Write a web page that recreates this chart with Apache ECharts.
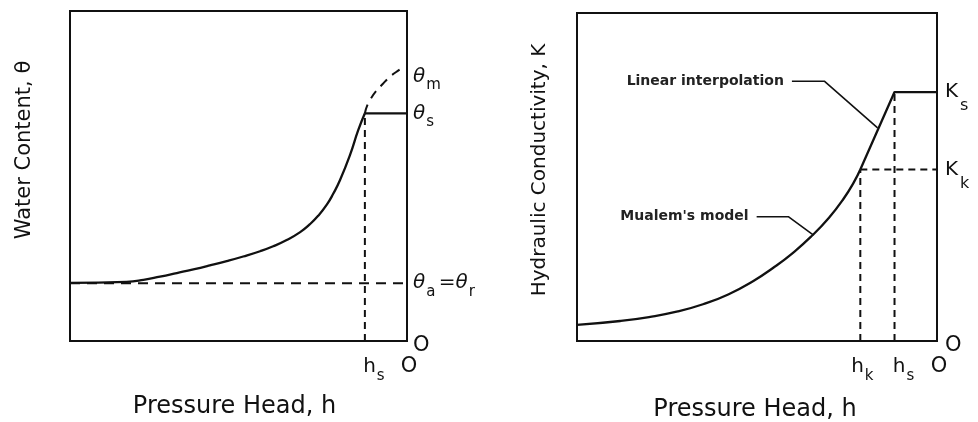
<!DOCTYPE html>
<html>
<head>
<meta charset="utf-8">
<script src="https://cdn.jsdelivr.net/npm/echarts@6/dist/echarts.min.js"></script>
<style>
html, body { margin: 0; padding: 0; background: #fff; }
#main { width: 978px; height: 422px; }
</style>
</head>
<body>
<div id="main"></div>
<script>
// left panel: water retention curve (h runs -100 .. 0, theta 0 .. 100)
const retH     = [-100, -83.2, -78.2, -73.3, -68.3, -63.4, -58.5, -53.5, -48.6, -43.6, -39.7, -35.7, -31.7, -28.8, -26.3, -23.8, -21.9, -19.9, -16.9, -14.5, -12.5];
const retTheta = [17.6, 17.9, 18.5, 19.5, 20.6, 21.7, 22.9, 24.2, 25.6, 27.2, 28.7, 30.6, 33.0, 35.4, 38.0, 41.3, 44.6, 48.7, 56.4, 63.8, 69.0];
const extH     = [-12.5, -11.0, -7.0, -3.1, -0.6, 0];
const extTheta = [69.0, 73.0, 78.1, 81.6, 82.6, 82.6];
const hsLeft = -12.5;
const thetaS = 69.0;
const thetaM = 82.6;
const thetaR = 17.5;

// right panel: hydraulic conductivity
const condH = [-100, -88, -80, -72, -65, -58, -51, -45, -40, -35, -30, -26, -23, -21.3];
const condK = [4.9, 6.1, 7.3, 9.0, 11.2, 14.2, 18.3, 22.7, 26.9, 31.8, 37.6, 43.3, 48.6, 52.3];
const hk = -21.3;
const hsRight = -11.8;
const Kk = 52.3;
const Ks = 75.9;

// annotation leader lines
const linLeadH = [-40.3, -31.3, -16.5];
const linLeadK = [79.2, 79.2, 65.0];
const muaLeadH = [-50.1, -41.3, -34.3];
const muaLeadK = [37.9, 37.9, 32.3];

const ink = '#111';
const font = 'DejaVu Sans';

function zip(a, b) {
  return a.map((v, i) => [v, b[i]]);
}
function near(a, b) {
  return Math.abs(a - b) < 1e-6;
}

const rich = {
  o: { fontFamily: font, fontSize: 21, color: ink, lineHeight: 22, padding: [0, 0, 0, 4] },
  oc: { fontFamily: font, fontSize: 21, color: ink, lineHeight: 22, padding: [9, 0, 0, 0] },
  n: { fontFamily: font, fontSize: 20, color: ink, lineHeight: 22 },
  h: { fontFamily: font, fontSize: 20, color: ink, lineHeight: 22, padding: [0, 0, 0, 18] },
  hk: { fontFamily: font, fontSize: 20, color: ink, lineHeight: 22, padding: [0, 0, 0, 4] },
  t: { fontFamily: font, fontSize: 20, fontStyle: 'italic', color: ink, lineHeight: 22 },
  s: { fontFamily: font, fontSize: 15, color: ink, lineHeight: 16, padding: [18, 0, 0, 1] },
  tm: { fontFamily: font, fontSize: 20, fontStyle: 'italic', color: ink, lineHeight: 22, padding: [16, 0, 0, 0] },
  sm: { fontFamily: font, fontSize: 15, color: ink, lineHeight: 16, padding: [34, 0, 0, 1] },
  K: { fontFamily: font, fontSize: 20, color: ink, lineHeight: 22 },
  ks: { fontFamily: font, fontSize: 16, color: ink, lineHeight: 16, padding: [28, 0, 0, 2] }
};

function hiddenAxis(grid, name, gap, size, pad) {
  return {
    type: 'value', gridIndex: grid, position: 'left', min: 0, max: 100,
    name: name, nameLocation: 'middle', nameGap: gap,
    nameTextStyle: { fontFamily: font, fontSize: size, color: ink, padding: [0, 0, 0, pad] },
    axisLine: { show: false }, axisTick: { show: false },
    axisLabel: { show: false }, splitLine: { show: false }
  };
}

let option = {
  backgroundColor: '#fff',
  animation: false,
  grid: [
    { left: 70, top: 11, width: 337, height: 330, show: true, borderColor: ink, borderWidth: 2, outerBoundsMode: 'none' },
    { left: 577, top: 13, width: 360, height: 328, show: true, borderColor: ink, borderWidth: 2, outerBoundsMode: 'none' }
  ],
  xAxis: [
    {
      type: 'value', gridIndex: 0, min: -100, max: 0,
      name: 'Pressure Head, h', nameLocation: 'middle', nameGap: 54,
      nameTextStyle: { fontFamily: font, fontSize: 24, color: ink, padding: [0, 8, 0, 0] },
      axisLine: { show: false }, axisTick: { show: false }, splitLine: { show: false },
      axisLabel: {
        customValues: [hsLeft, 0], margin: 15, rich: rich,
        formatter: v => near(v, 0) ? '{o|O}' : '{h|h}{s|s}'
      }
    },
    {
      type: 'value', gridIndex: 1, min: -100, max: 0,
      name: 'Pressure Head, h', nameLocation: 'middle', nameGap: 57,
      nameTextStyle: { fontFamily: font, fontSize: 24, color: ink, padding: [0, 4, 0, 0] },
      axisLine: { show: false }, axisTick: { show: false }, splitLine: { show: false },
      axisLabel: {
        customValues: [hk, hsRight, 0], margin: 15, rich: rich,
        formatter: v => near(v, 0) ? '{o|O}' : (near(v, hk) ? '{hk|h}{s|k}' : '{h|h}{s|s}')
      }
    }
  ],
  yAxis: [
    hiddenAxis(0, 'Water Content, θ', 35, 21, 52),
    {
      type: 'value', gridIndex: 0, position: 'right', min: 0, max: 100,
      axisLine: { show: false }, axisTick: { show: false }, splitLine: { show: false },
      axisLabel: {
        customValues: [0, thetaR, thetaS, thetaM], margin: 6, rich: rich,
        formatter: v => {
          if (near(v, 0)) return '{oc|O}';
          if (near(v, thetaR)) return '{t|θ}{s|a} {n|=}{t|θ}{s|r}';
          if (near(v, thetaS)) return '{t|θ}{s|s}';
          return '{tm|θ}{sm|m}';
        }
      }
    },
    hiddenAxis(1, 'Hydraulic Conductivity, K', 27, 20, 14),
    {
      type: 'value', gridIndex: 1, position: 'right', min: 0, max: 100,
      axisLine: { show: false }, axisTick: { show: false }, splitLine: { show: false },
      axisLabel: {
        customValues: [0, Kk, Ks], margin: 8, rich: rich,
        formatter: v => {
          if (near(v, 0)) return '{oc|O}';
          if (near(v, Kk)) return '{K|K}{ks|k}';
          return '{K|K}{ks|s}';
        }
      }
    }
  ],
  series: [
    // left panel
    {
      type: 'line', xAxisIndex: 0, yAxisIndex: 1, symbol: 'none', smooth: 0.5,
      lineStyle: { color: ink, width: 2.3 }, data: zip(retH, retTheta)
    },
    {
      type: 'line', xAxisIndex: 0, yAxisIndex: 1, symbol: 'none',
      lineStyle: { color: ink, width: 2.3 }, data: [[hsLeft, thetaS], [0, thetaS]]
    },
    {
      type: 'line', xAxisIndex: 0, yAxisIndex: 1, symbol: 'none', smooth: 0.5,
      lineStyle: { color: ink, width: 2, type: [9, 7] }, data: zip(extH, extTheta)
    },
    {
      type: 'line', xAxisIndex: 0, yAxisIndex: 1, symbol: 'none',
      lineStyle: { color: ink, width: 2, type: [10, 7] }, data: [[-100, thetaR], [0, thetaR]]
    },
    {
      type: 'line', xAxisIndex: 0, yAxisIndex: 1, symbol: 'none',
      lineStyle: { color: ink, width: 2, type: [7, 5] }, data: [[hsLeft, 0], [hsLeft, thetaS]]
    },
    // right panel
    {
      type: 'line', xAxisIndex: 1, yAxisIndex: 3, symbol: 'none', smooth: 0.5,
      lineStyle: { color: ink, width: 2.3 }, data: zip(condH, condK)
    },
    {
      type: 'line', xAxisIndex: 1, yAxisIndex: 3, symbol: 'none',
      lineStyle: { color: ink, width: 2.3 }, data: [[hk, Kk], [hsRight, Ks], [0, Ks]]
    },
    {
      type: 'line', xAxisIndex: 1, yAxisIndex: 3, symbol: 'none',
      lineStyle: { color: ink, width: 2, type: [7, 5] }, data: [[hk, Kk], [0, Kk]]
    },
    {
      type: 'line', xAxisIndex: 1, yAxisIndex: 3, symbol: 'none',
      lineStyle: { color: ink, width: 2, type: [7, 5] }, data: [[hk, 0], [hk, Kk]]
    },
    {
      type: 'line', xAxisIndex: 1, yAxisIndex: 3, symbol: 'none',
      lineStyle: { color: ink, width: 2, type: [7, 5] }, data: [[hsRight, 0], [hsRight, Ks]]
    },
    {
      type: 'line', xAxisIndex: 1, yAxisIndex: 3, symbol: 'circle', symbolSize: 0.1, showSymbol: true,
      lineStyle: { color: ink, width: 1.6 },
      data: zip(linLeadH, linLeadK).map((p, i) => i === 0 ? {
        value: p,
        label: { show: true, position: 'left', distance: 8, formatter: 'Linear interpolation',
          fontFamily: font, fontSize: 14, fontWeight: 'bold', color: '#222' }
      } : p)
    },
    {
      type: 'line', xAxisIndex: 1, yAxisIndex: 3, symbol: 'circle', symbolSize: 0.1, showSymbol: true,
      lineStyle: { color: ink, width: 1.6 },
      data: zip(muaLeadH, muaLeadK).map((p, i) => i === 0 ? {
        value: p,
        label: { show: true, position: 'left', distance: 8, formatter: "Mualem's model",
          fontFamily: font, fontSize: 14, fontWeight: 'bold', color: '#222' }
      } : p)
    }
  ]
};

let myChart = echarts.init(document.getElementById('main'));
option && myChart.setOption(option);
</script>
</body>
</html>
